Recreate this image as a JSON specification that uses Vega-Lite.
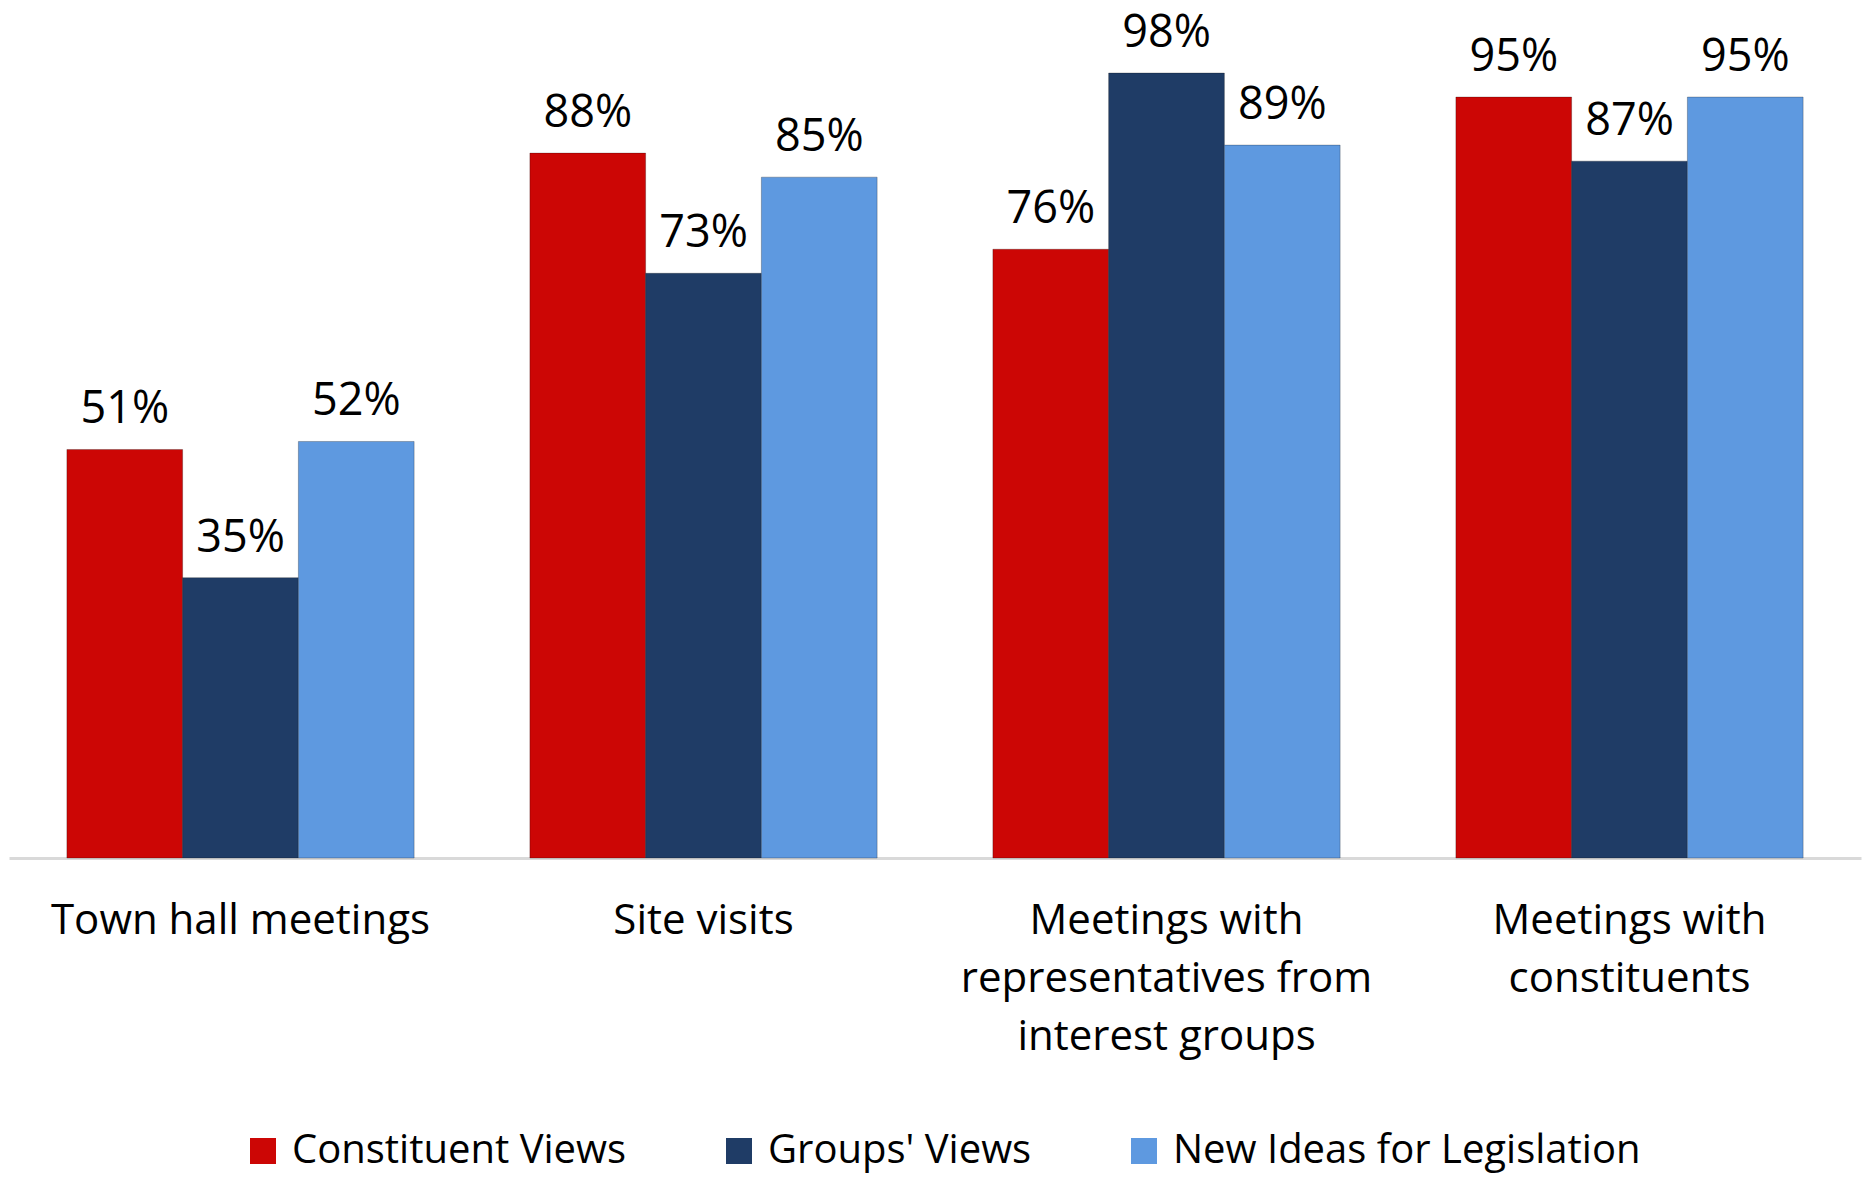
{
  "$schema": "https://vega.github.io/schema/vega-lite/v6.json",
  "autosize": {"type": "none"},
  "width": 1852,
  "height": 801,
  "padding": {"left": 9, "top": 57, "right": 4, "bottom": 322},
  "background": "white",
  "config": {"view": {"stroke": null}, "font": "Open Sans"},
  "data": {
    "values": [
      {"activity": "Town hall meetings", "series": "Constituent Views", "value": 0.51},
      {"activity": "Town hall meetings", "series": "Groups' Views", "value": 0.35},
      {"activity": "Town hall meetings", "series": "New Ideas for Legislation", "value": 0.52},
      {"activity": "Site visits", "series": "Constituent Views", "value": 0.88},
      {"activity": "Site visits", "series": "Groups' Views", "value": 0.73},
      {"activity": "Site visits", "series": "New Ideas for Legislation", "value": 0.85},
      {"activity": "Meetings with representatives from interest groups", "series": "Constituent Views", "value": 0.76},
      {"activity": "Meetings with representatives from interest groups", "series": "Groups' Views", "value": 0.98},
      {"activity": "Meetings with representatives from interest groups", "series": "New Ideas for Legislation", "value": 0.89},
      {"activity": "Meetings with constituents", "series": "Constituent Views", "value": 0.95},
      {"activity": "Meetings with constituents", "series": "Groups' Views", "value": 0.87},
      {"activity": "Meetings with constituents", "series": "New Ideas for Legislation", "value": 0.95}
    ]
  },
  "encoding": {
    "x": {
      "field": "activity",
      "type": "nominal",
      "sort": ["Town hall meetings", "Site visits", "Meetings with representatives from interest groups", "Meetings with constituents"],
      "scale": {"paddingInner": 0.25, "paddingOuter": 0.125},
      "axis": {
        "title": null,
        "labelAngle": 0,
        "ticks": false,
        "tickSize": 0,
        "domainColor": "#D9D9D9",
        "domainWidth": 3,
        "labelFont": "Open Sans",
        "labelFontSize": 42,
        "labelColor": "#000000",
        "labelBaseline": "alphabetic",
        "labelPadding": 75,
        "labelLineHeight": 58,
        "labelLimit": 0,
        "labelOverlap": false,
        "labelExpr": "datum.value == 'Meetings with representatives from interest groups' ? ['Meetings with', 'representatives from', 'interest groups'] : datum.value == 'Meetings with constituents' ? ['Meetings with', 'constituents'] : datum.value"
      }
    },
    "xOffset": {
      "field": "series",
      "type": "nominal",
      "sort": ["Constituent Views", "Groups' Views", "New Ideas for Legislation"],
      "scale": {"paddingInner": 0, "paddingOuter": 0}
    },
    "y": {
      "field": "value",
      "type": "quantitative",
      "scale": {"domain": [0, 1], "nice": false},
      "axis": null
    }
  },
  "layer": [
    {
      "mark": {"type": "bar", "stroke": "#000000", "strokeOpacity": 0.25, "strokeWidth": 1},
      "encoding": {
        "color": {
          "field": "series",
          "type": "nominal",
          "sort": ["Constituent Views", "Groups' Views", "New Ideas for Legislation"],
          "scale": {
            "domain": ["Constituent Views", "Groups' Views", "New Ideas for Legislation"],
            "range": ["#CC0605", "#1F3C66", "#5E99E0"]
          },
          "legend": {
            "title": null,
            "orient": "none",
            "direction": "horizontal",
            "legendX": 234,
            "legendY": 1074,
            "symbolType": "square",
            "symbolSize": 676,
            "symbolStrokeWidth": 0,
            "labelFont": "Open Sans",
            "labelFontSize": 40,
            "labelColor": "#000000",
            "labelOffset": 9,
            "labelLimit": 0,
            "columnPadding": 92,
            "padding": 0
          }
        }
      }
    },
    {
      "mark": {"type": "text", "dy": -26, "baseline": "alphabetic", "align": "center", "font": "Open Sans", "fontSize": 45, "color": "#000000"},
      "encoding": {
        "text": {"field": "value", "type": "quantitative", "format": ".0%"}
      }
    }
  ]
}
